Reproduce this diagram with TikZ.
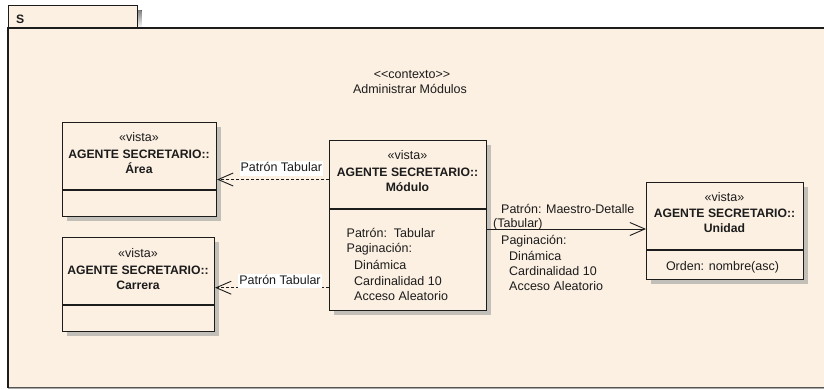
\documentclass[tikz,border=0pt]{standalone}
\usepackage{fontspec}
\setmainfont{Liberation Sans}
\usetikzlibrary{arrows.meta,shadows}
\definecolor{paper}{HTML}{FCF0E2}
\definecolor{shade}{HTML}{C2BEB8}
\definecolor{ink}{HTML}{1C1C1C}
\begin{document}
\begin{tikzpicture}[x=1pt,y=-1pt,
  every node/.style={inner sep=0pt, text height=9pt, text depth=0pt, text=ink},
  txt/.style={font=\fontsize{12.5}{15}\selectfont},
  bld/.style={font=\fontsize{12.2}{15}\selectfont\bfseries},
  umlbox/.style={draw=ink, line width=1.1pt, fill=paper, anchor=north west,
    drop shadow={shadow xshift=4pt, shadow yshift=-4pt, fill=shade, opacity=1}},
  divider/.style={draw=ink, line width=1.1pt},
  dep/.style={draw=ink, line width=0.9pt, dash pattern=on 3pt off 2pt,
    -{Straight Barb[length=15pt, width=13pt, line width=0.9pt]}},
  assoc/.style={draw=ink, line width=0.9pt,
    -{Straight Barb[length=15pt, width=13pt, line width=0.9pt]}},
  deplabel/.style={txt, fill=white, inner xsep=1pt, inner ysep=1.5pt, text depth=2.5pt},
]
\useasboundingbox (0,0) rectangle (824,389);
\fill[white] (0,0) rectangle (824,389);

% package frame with its name tab
\fill[shade] (137,10) rectangle (141.5,28);
\node[draw=ink, line width=1.1pt, fill=paper, anchor=north west,
  minimum width=129pt, minimum height=23pt] (tab) at (8,5) {};
\node[bld, anchor=west] (tabname) at (16,18.5) {S};
\fill[paper] (8,28) rectangle (824,387.5);
\fill[shade] (8,387.5) rectangle (824,389);
\draw[ink, line width=1.1pt] (824,28) -- (8,28) -- (8,387.5);

% context title
\node[txt] (ctx) at (412,74) {{<}{<}contexto{>}{>}};
\node[txt] (ctxname) at (410,89) {Administrar Módulos};

% class boxes
\node[umlbox, minimum width=154pt, minimum height=94pt] (area) at (62,122) {};
\node[umlbox, minimum width=152pt, minimum height=94pt] (carrera) at (62,237) {};
\node[umlbox, minimum width=157pt, minimum height=170pt] (modulo) at (329,140) {};
\node[umlbox, minimum width=157pt, minimum height=97pt] (unidad) at (646,182) {};

\draw[divider] (area.west |- 0,190) -- (area.east |- 0,190);
\draw[divider] (carrera.west |- 0,305) -- (carrera.east |- 0,305);
\draw[divider] (modulo.west |- 0,209) -- (modulo.east |- 0,209);
\draw[divider] (unidad.west |- 0,250) -- (unidad.east |- 0,250);

% Área
\node[txt] (areast) at (139,137) {«vista»};
\node[bld] (areapk) at (139,153.5) {AGENTE SECRETARIO::};
\node[bld] (areanm) at (139,169) {Área};

% Carrera
\node[txt] (carst) at (138,253) {«vista»};
\node[bld] (carpk) at (138,269.5) {AGENTE SECRETARIO::};
\node[bld] (carnm) at (138,285) {Carrera};

% Módulo
\node[txt] (modst) at (407.5,155) {«vista»};
\node[bld] (modpk) at (407.5,172) {AGENTE SECRETARIO::};
\node[bld] (modnm) at (407.5,187) {Módulo};
\node[txt, anchor=west] (moda1) at (346.5,232.5) {Patrón:\ \ Tabular};
\node[txt, anchor=west] (moda2) at (346.5,247.5) {Paginación:};
\node[txt, anchor=west] (moda3) at (354,265) {Dinámica};
\node[txt, anchor=west] (moda4) at (354,280.5) {Cardinalidad 10};
\node[txt, anchor=west] (moda5) at (354,295.5) {Acceso Aleatorio};

% Unidad
\node[txt] (unist) at (724.5,196.5) {«vista»};
\node[bld] (unipk) at (724.5,213) {AGENTE SECRETARIO::};
\node[bld] (uninm) at (724.5,227.5) {Unidad};
\node[txt] (unia1) at (722.5,265.5) {Orden: nombre(asc)};

% connectors
\draw[dep] (modulo.west |- 0,179.5) -- (area.east |- 0,179.5);
\node[deplabel] (lbl1) at (281.3,168.7) {Patrón Tabular};
\draw[dep] (modulo.west |- 0,287.7) -- (carrera.east |- 0,287.7);
\node[deplabel] (lbl2) at (280,281) {Patrón Tabular};
\draw[assoc] (modulo.east |- 0,229) -- (unidad.west |- 0,229);

% association annotation
\node[txt, anchor=west] (as1) at (501,209) {Patrón: Maestro-Detalle};
\node[txt, anchor=west] (as2) at (493,223) {(Tabular)};
\node[txt, anchor=west] (as3) at (501,240) {Paginación:};
\node[txt, anchor=west] (as4) at (509,255.5) {Dinámica};
\node[txt, anchor=west] (as5) at (509,270.5) {Cardinalidad 10};
\node[txt, anchor=west] (as6) at (509,285.5) {Acceso Aleatorio};
\end{tikzpicture}
\end{document}
